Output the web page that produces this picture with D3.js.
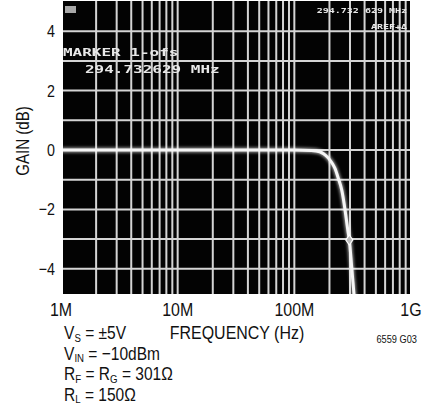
<!DOCTYPE html>
<html>
<head>
<meta charset="utf-8">
<script src="https://cdn.jsdelivr.net/npm/d3@7"></script>
<style>
  body { margin: 0; background: #fff; }
  svg { display: block; }
  .lbl { font-family: "Liberation Sans", Arial, sans-serif; fill: #111; }
  .crt { font-family: "DejaVu Sans Mono", monospace; font-weight: bold; fill: #e8e8e8; }
</style>
</head>
<body>
<div id="chart"></div>
<script>
// values
const freqMHz = [1, 10, 100, 140, 165, 178, 190, 202, 213, 223, 238, 255, 267, 277, 287, 296, 310, 324, 335];
const gainDb = [0, 0, 0, -0.02, -0.06, -0.13, -0.22, -0.34, -0.47, -0.62, -0.95, -1.35, -1.8, -2.24, -2.69, -3.03, -3.93, -4.83, -5.5];

const freqTicks = [1e6, 1e7, 1e8, 1e9];
const freqTickLabels = ['1M', '10M', '100M', '1G'];
const gainTicks = [4, 2, 0, -2, -4];
const gainTickLabels = ['4', '2', '0', '\u22122', '\u22124'];
const gridDecades = [1e6, 1e7, 1e8];
const gridSteps = [2, 3, 4, 5, 6, 7, 8, 9, 10];
const gridGains = [4, 3, 2, 1, 0, -1, -2, -3, -4];

const markerFreqMHz = 296;
const markerGain = -3.03;

const width = 428;
const height = 410;
const squeeze = 0.84; // narrow the sans font like the datasheet's condensed face

const box = { left: 63, right: 410, top: 1, bottom: 294 };

const svg = d3.select('#chart')
  .append('svg')
  .attr('width', width)
  .attr('height', height);

const xScale = d3.scaleLog().domain([1e6, 1e9]).range([61, 411]);
const yScale = d3.scaleLinear().domain([5, -5]).range([1.5, 298.5]);

const defs = svg.append('defs');
defs.append('clipPath').attr('id', 'screen')
  .append('rect')
  .attr('x', box.left).attr('y', box.top)
  .attr('width', box.right - box.left).attr('height', box.bottom - box.top);
defs.append('filter').attr('id', 'soft')
  .append('feGaussianBlur').attr('stdDeviation', 0.55);
defs.append('filter').attr('id', 'glow')
  .append('feGaussianBlur').attr('stdDeviation', 1.6);

// black screen
svg.append('rect')
  .attr('x', box.left).attr('y', box.top)
  .attr('width', box.right - box.left).attr('height', box.bottom - box.top)
  .attr('fill', '#030303');

const screen = svg.append('g').attr('clip-path', 'url(#screen)');

// graticule
const gridFreqs = gridDecades.flatMap((d) => gridSteps.map((s) => d * s));
const grid = screen.append('g').attr('filter', 'url(#soft)');
grid.selectAll('line.v')
  .data(gridFreqs)
  .join('line')
  .attr('class', 'v')
  .attr('x1', (d) => xScale(d)).attr('x2', (d) => xScale(d))
  .attr('y1', box.top).attr('y2', box.bottom)
  .attr('stroke', '#d4d4d4')
  .attr('stroke-width', 2);
grid.selectAll('line.h')
  .data(gridGains)
  .join('line')
  .attr('class', 'h')
  .attr('x1', box.left).attr('x2', box.right)
  .attr('y1', (d) => yScale(d)).attr('y2', (d) => yScale(d))
  .attr('stroke', '#d4d4d4')
  .attr('stroke-width', 2);

// trace
const trace = freqMHz.map((f, i) => [f * 1e6, gainDb[i]]);
const line = d3.line()
  .x((d) => xScale(d[0]))
  .y((d) => yScale(d[1]))
  .curve(d3.curveMonotoneX);

screen.append('path')
  .datum(trace)
  .attr('d', line)
  .attr('fill', 'none')
  .attr('stroke', '#ffffff')
  .attr('stroke-opacity', 0.6)
  .attr('stroke-width', 5)
  .attr('filter', 'url(#glow)');
screen.append('path')
  .datum(trace)
  .attr('d', line)
  .attr('fill', 'none')
  .attr('stroke', '#f6f6f6')
  .attr('stroke-width', 3);

// marker
const mx = xScale(markerFreqMHz * 1e6);
const my = yScale(markerGain);
screen.append('path')
  .attr('d', `M${mx},${my - 5} L${mx + 3.5},${my} L${mx},${my + 5} L${mx - 3.5},${my} Z`)
  .attr('fill', '#bdbdbd')
  .attr('stroke', '#ffffff')
  .attr('stroke-width', 1.2)
  .attr('filter', 'url(#soft)');

// on-screen annotations
const crt = screen.append('g').attr('filter', 'url(#soft)');
crt.append('rect')
  .attr('x', 65).attr('y', 6).attr('width', 11).attr('height', 7)
  .attr('fill', '#a8a8a8');
crt.append('text').attr('class', 'crt')
  .attr('transform', 'translate(63,56) scale(1,0.62)')
  .attr('font-size', 16)
  .text('MARKER 1-ofs');
crt.append('text').attr('class', 'crt')
  .attr('transform', 'translate(85,73) scale(1,0.62)')
  .attr('font-size', 16)
  .text('294.732629 MHz');
crt.append('text').attr('class', 'crt')
  .attr('transform', 'translate(407,13) scale(1,0.7)')
  .attr('text-anchor', 'end')
  .attr('font-size', 10)
  .text('294.732 629 MHz');
crt.append('text').attr('class', 'crt')
  .attr('transform', 'translate(407,29) scale(1,0.7)')
  .attr('text-anchor', 'end')
  .attr('font-size', 10)
  .text('AREF+\u0394');

// text helper: position, then squeeze horizontally
function label(parent, x, y, size, anchor, rotate) {
  return parent.append('text')
    .attr('class', 'lbl')
    .attr('transform', `translate(${x},${y})` + (rotate ? ` rotate(${rotate})` : '') + ` scale(${squeeze},1)`)
    .attr('text-anchor', anchor)
    .attr('font-size', size);
}

// axis labels
gainTicks.forEach((d, i) => {
  label(svg, 55, yScale(d), 17, 'end')
    .attr('dy', '0.35em')
    .text(gainTickLabels[i]);
});

freqTicks.forEach((d, i) => {
  label(svg, xScale(d), 316, 19, 'middle').text(freqTickLabels[i]);
});

label(svg, 29, 141, 18, 'middle', -90).text('GAIN (dB)');
label(svg, 237, 339, 19, 'middle').text('FREQUENCY (Hz)');
label(svg, 417, 343, 11, 'end').text('6559 G03');

// test conditions with subscripts
const notes = [
  [['V', ''], ['S', 'sub'], [' = \u00b15V', '']],
  [['V', ''], ['IN', 'sub'], [' = \u221210dBm', '']],
  [['R', ''], ['F', 'sub'], [' = R', ''], ['G', 'sub'], [' = 301\u03a9', '']],
  [['R', ''], ['L', 'sub'], [' = 150\u03a9', '']],
];
notes.forEach((parts, i) => {
  const t = label(svg, 64, 339 + i * 20.5, 18.5, 'start');
  parts.forEach(([s, kind], j) => {
    const prev = j > 0 ? parts[j - 1][1] : '';
    let dy = 0;
    if (kind === 'sub' && prev !== 'sub') dy = 2.5;
    if (kind !== 'sub' && prev === 'sub') dy = -2.5;
    t.append('tspan')
      .attr('dy', dy)
      .attr('font-size', kind === 'sub' ? 11.5 : 18.5)
      .text(s);
  });
});
</script>
</body>
</html>
